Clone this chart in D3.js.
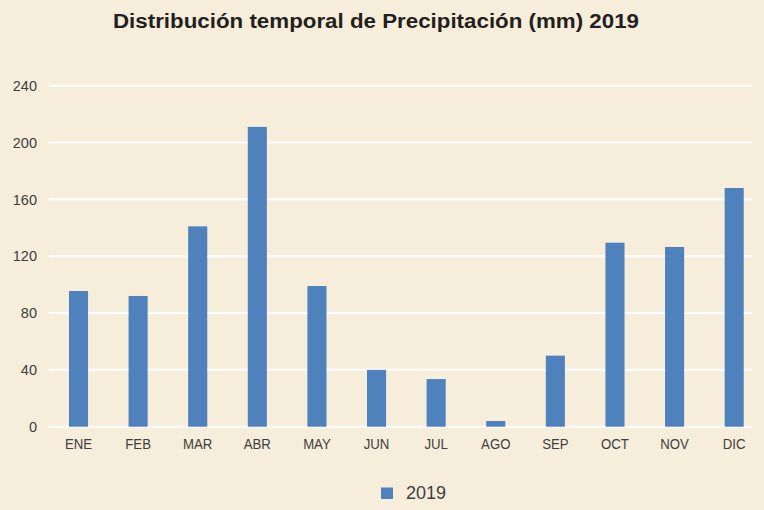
<!DOCTYPE html>
<html>
<head>
<meta charset="utf-8">
<script src="https://cdn.jsdelivr.net/npm/d3@7"></script>
<style>
  body { margin: 0; background: #f6eddb; }
  svg { display: block; }
</style>
</head>
<body>
<div id="chart"></div>
<script>
// monthly data
var months = ["ENE", "FEB", "MAR", "ABR", "MAY", "JUN", "JUL", "AGO", "SEP", "OCT", "NOV", "DIC"];
var precip2019 = [95.5, 92, 141, 211, 99, 40, 33.5, 4, 50, 129.5, 126.5, 168];
var yTicks = [0, 40, 80, 120, 160, 200, 240];
var seriesName = "2019";

var w = 764, h = 510;
var margin = {top: 85.7, right: 0, bottom: 83.3, left: 48.7};
var font = "'Liberation Sans', Arial, sans-serif";

var svg = d3.select("#chart").append("svg")
    .attr("width", w)
    .attr("height", h);

svg.append("rect").attr("width", w).attr("height", h).attr("fill", "#f6eddb");

var x = d3.scaleBand()
    .domain(months)
    .range([margin.left, w - margin.right])
    .paddingInner(0.68)
    .paddingOuter(0.34);

var y = d3.scaleLinear()
    .domain([0, 240])
    .range([h - margin.bottom, margin.top]);

// gridlines
svg.append("g").selectAll("line")
    .data(yTicks)
    .enter().append("line")
    .attr("x1", margin.left)
    .attr("x2", 752)
    .attr("y1", function(d) { return y(d); })
    .attr("y2", function(d) { return y(d); })
    .attr("stroke", "#ffffff")
    .attr("stroke-width", 2);

// y labels
svg.append("g").selectAll("text")
    .data(yTicks)
    .enter().append("text")
    .attr("x", 37)
    .attr("y", function(d) { return y(d); })
    .attr("dy", "0.36em")
    .attr("text-anchor", "end")
    .attr("font-family", font)
    .attr("font-size", 14.5)
    .attr("fill", "#404040")
    .text(function(d) { return d; });

// bars
svg.append("g").selectAll("rect")
    .data(precip2019)
    .enter().append("rect")
    .attr("x", function(d, i) { return x(months[i]); })
    .attr("width", x.bandwidth())
    .attr("y", function(d) { return y(d); })
    .attr("height", function(d) { return y(0) - y(d); })
    .attr("fill", "#4f81bd");

// x labels (slightly condensed)
svg.append("g").selectAll("text")
    .data(months)
    .enter().append("text")
    .attr("transform", function(d) {
      return "translate(" + (x(d) + x.bandwidth() / 2) + ",449) scale(0.88,1)";
    })
    .attr("text-anchor", "middle")
    .attr("font-family", font)
    .attr("font-size", 15)
    .attr("fill", "#404040")
    .text(function(d) { return d; });

// title
svg.append("text")
    .attr("x", 113)
    .attr("y", 28.3)
    .attr("textLength", 526)
    .attr("lengthAdjust", "spacingAndGlyphs")
    .attr("font-family", font)
    .attr("font-weight", "bold")
    .attr("font-size", 19.5)
    .attr("fill", "#231f20")
    .text("Distribución temporal de Precipitación (mm) 2019");

// legend
var legend = svg.append("g").attr("transform", "translate(381,487.5)");
legend.append("rect").attr("width", 12).attr("height", 11.5).attr("fill", "#4f81bd");
legend.append("text")
    .attr("x", 25)
    .attr("y", 11)
    .attr("font-family", font)
    .attr("font-size", 18)
    .attr("fill", "#404040")
    .text(seriesName);
</script>
</body>
</html>
